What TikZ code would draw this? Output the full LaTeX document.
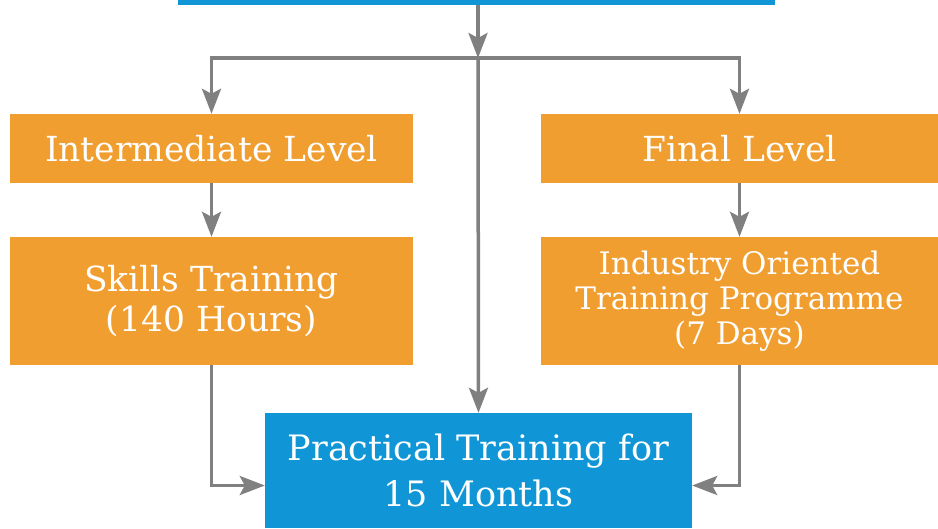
\documentclass[tikz,border=0pt]{standalone}
\usepackage{fontspec}
\setmainfont{DejaVu Serif}
\usetikzlibrary{arrows.meta,calc}
\definecolor{boxorange}{RGB}{241,158,48}
\definecolor{boxblue}{RGB}{16,150,214}
\definecolor{linkgray}{RGB}{128,128,128}
\tikzset{
  levelbox/.style={fill=boxorange, text=white, align=center, inner sep=0pt},
  trainbox/.style={fill=boxblue, text=white, align=center, inner sep=0pt},
  link/.style={draw=linkgray, line width=3.5pt, -{Stealth[length=25pt,width=19pt,inset=5pt]}},
}
\begin{document}
\begin{tikzpicture}[x=1pt,y=-1pt]
\useasboundingbox (0,0) rectangle (938,528);
\clip (0,0) rectangle (938,528);

%%% boxes

% top
\node[trainbox, minimum width=597pt, minimum height=45pt] (top) at (476.5,-17.5) {};

% intermediate
\node[levelbox, minimum width=403pt, minimum height=69pt, font=\fontsize{34.5}{40}\selectfont] (inter) at (211.5,148.5) {Intermediate Level};
\node[levelbox, minimum width=403pt, minimum height=128pt, font=\fontsize{34.5}{40}\selectfont] (skills) at (211.5,301) {Skills Training\\(140 Hours)};

% final
\node[levelbox, minimum width=397pt, minimum height=69pt, font=\fontsize{34.5}{40}\selectfont] (final) at (739.5,148.5) {Final Level};
\node[levelbox, minimum width=397pt, minimum height=128pt, font=\fontsize{31}{35}\selectfont] (industry) at (739.5,301) {Industry Oriented\\Training Programme\\(7 Days)};

% practical
\node[trainbox, minimum width=427pt, minimum height=115pt, font=\fontsize{35}{46}\selectfont] (practical) at (478.5,470.5) {Practical Training for\\15 Months};

%%% links
\coordinate (split) at (478,58);
\coordinate (pleft) at ($(practical.north west)!0.63!(practical.south west)$);
\coordinate (pright) at ($(practical.north east)!0.63!(practical.south east)$);

\draw[link] (top.south -| split) -- (split);
\draw[link, shorten <=-1.75pt] (split) -| (inter.north);
\draw[link, shorten <=-1.75pt] (split) -| (final.north);
\draw[link] (split) -- (practical.north);
\draw[link] (inter) -- (skills);
\draw[link] (final) -- (industry);
\draw[link] (skills.south) |- (pleft);
\draw[link] (industry.south) |- (pright);

\end{tikzpicture}
\end{document}
